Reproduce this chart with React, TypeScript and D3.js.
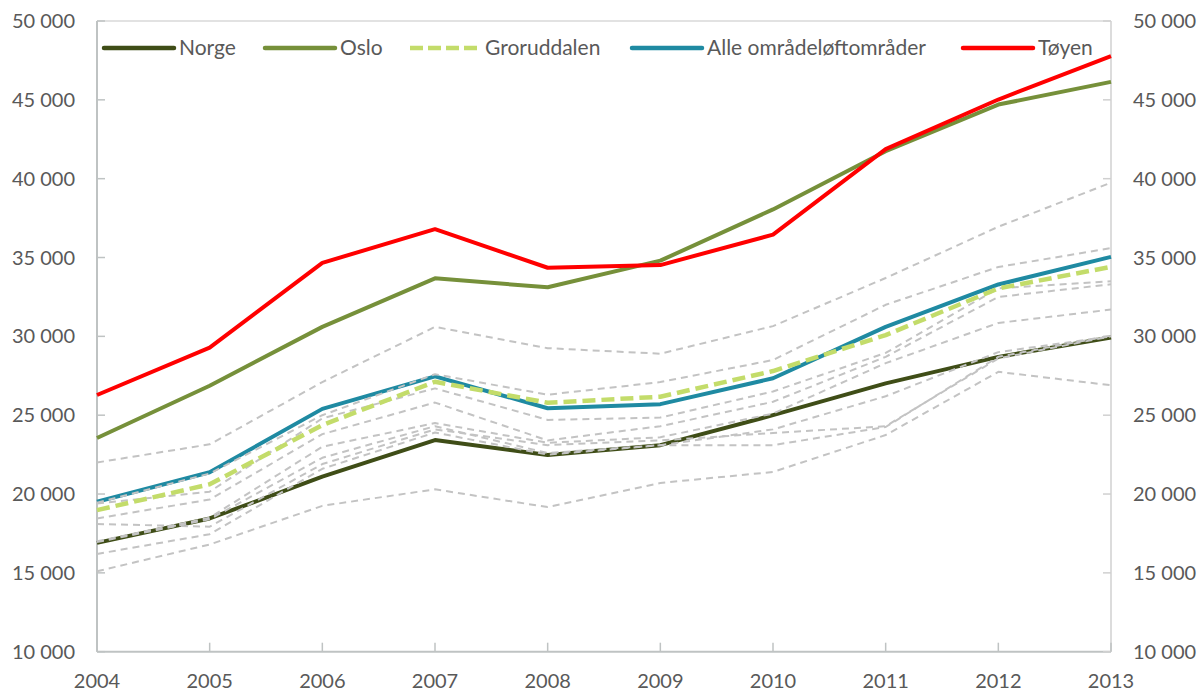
import React from "react";
import * as d3 from "d3";

const years = [2004, 2005, 2006, 2007, 2008, 2009, 2010, 2011, 2012, 2013];
const yTicks = [10000, 15000, 20000, 25000, 30000, 35000, 40000, 45000, 50000];

const norge = [16900, 18450, 21100, 23420, 22470, 23100, 25000, 27020, 28700, 29930];
const oslo = [23550, 26870, 30600, 33680, 33110, 34800, 38050, 41740, 44700, 46140];
const groruddalen = [18980, 20620, 24370, 27120, 25790, 26170, 27800, 30080, 33040, 34410];
const alle = [19510, 21380, 25400, 27460, 25440, 25700, 27340, 30600, 33290, 35040];
const toyen = [26280, 29280, 34660, 36800, 34350, 34520, 36450, 41870, 45020, 47770];

const grey1 = [22000, 23150, 27100, 30600, 29250, 28900, 30650, 33700, 36950, 39750];
const grey2 = [19450, 21300, 25000, 27600, 26300, 27100, 28500, 32000, 34400, 35600];
const grey3 = [19400, 20150, 24800, 26700, 24700, 24850, 26500, 28950, 33050, 33500];
const grey4 = [18450, 19650, 23800, 25800, 23400, 24300, 25850, 28700, 32500, 33300];
const grey5 = [17000, 18500, 23000, 24500, 23250, 23600, 25100, 28300, 30850, 31700];
const grey6 = [16950, 18400, 22300, 24300, 22600, 23100, 24100, 26200, 29000, 30000];
const grey7 = [18100, 17930, 21900, 24100, 23100, 23400, 23870, 24300, 28600, 30000];
const grey8 = [16200, 17450, 21600, 23900, 22500, 23100, 23100, 24250, 28700, 30050];
const grey9 = [15100, 16800, 19250, 20300, 19170, 20700, 21400, 23740, 27750, 26900];
const greys = [grey1, grey2, grey3, grey4, grey5, grey6, grey7, grey8, grey9];

const legendLabels = ["Norge", "Oslo", "Groruddalen", "Alle områdeløftområder", "Tøyen"];

const C_NORGE = "#3f4d17";
const C_OSLO = "#76903a";
const C_GROR = "#c3dc6a";
const C_ALLE = "#1f8aa2";
const C_TOYEN = "#ff0000";
const C_GREY = "#c3c3c3";
const TEXT = "#595959";
const FONT = "Lato, 'Open Sans', sans-serif";

export default function App() {
  const W = 1200;
  const H = 692;
  const x0 = 97;
  const x1 = 1111;
  const yTop = 21;
  const yBot = 651.7;

  const x = d3.scaleLinear().domain([2004, 2013]).range([x0, x1]);
  const y = d3.scaleLinear().domain([10000, 50000]).range([yBot, yTop]);
  const line = d3
    .line<number>()
    .x((_, i) => x(years[i]))
    .y((d) => y(d));
  const fmt = d3.formatLocale({ thousands: " ", grouping: [3], decimal: ",", currency: ["", ""] }).format(",d");

  const legendItems = [
    { label: legendLabels[0], color: C_NORGE, lx: 104, tx: 179, dash: undefined },
    { label: legendLabels[1], color: C_OSLO, lx: 265, tx: 340, dash: undefined },
    { label: legendLabels[2], color: C_GROR, lx: 410, tx: 485, dash: "13 5" },
    { label: legendLabels[3], color: C_ALLE, lx: 632, tx: 707, dash: undefined },
    { label: legendLabels[4], color: C_TOYEN, lx: 963, tx: 1038, dash: undefined },
  ];
  const legY = 48;

  return (
    <svg
      width={W}
      height={H}
      style={{ position: "absolute", left: 0, top: 0, background: "#fff" }}
      fontFamily={FONT}
    >
      <rect x={0} y={0} width={W} height={H} fill="#fff" />
      {/* frame */}
      <line x1={x0} x2={x1} y1={yTop} y2={yTop} stroke="#d9d9d9" strokeWidth={1.5} />
      <line x1={x1} x2={x1} y1={yTop} y2={yBot} stroke="#d0d0d0" strokeWidth={1.5} />
      <line x1={x0} x2={x0} y1={yTop} y2={yBot} stroke="#bfc3c3" strokeWidth={2} />
      <line x1={x0} x2={x1} y1={yBot} y2={yBot} stroke="#bfc3c3" strokeWidth={2} />

      {/* y ticks */}
      {yTicks.map((t) => (
        <g key={"yt" + t}>
          <line x1={x0} x2={x0 + 8} y1={y(t)} y2={y(t)} stroke="#bfc3c3" strokeWidth={1.5} />
          <line x1={x1} x2={x1 - 8} y1={y(t)} y2={y(t)} stroke="#d0d0d0" strokeWidth={1.5} />
          <text x={75} y={y(t)} dy="0.35em" textAnchor="end" fontSize={20} fill={TEXT}>
            {fmt(t)}
          </text>
          <text x={1133} y={y(t)} dy="0.35em" textAnchor="start" fontSize={20} fill={TEXT}>
            {fmt(t)}
          </text>
        </g>
      ))}

      {/* x ticks */}
      {years.map((yr) => (
        <g key={"xt" + yr}>
          <line x1={x(yr)} x2={x(yr)} y1={yBot} y2={yBot - 9} stroke="#bfc3c3" strokeWidth={1.5} />
          <text x={x(yr)} y={688} textAnchor="middle" fontSize={20} fill={TEXT}>
            {yr}
          </text>
        </g>
      ))}

      {/* series */}
      <path d={line(norge) || ""} fill="none" stroke={C_NORGE} strokeWidth={4} strokeLinejoin="round" />
      <path d={line(oslo) || ""} fill="none" stroke={C_OSLO} strokeWidth={4} strokeLinejoin="round" />
      <path d={line(alle) || ""} fill="none" stroke={C_ALLE} strokeWidth={4} strokeLinejoin="round" />
      {greys.map((g, i) => (
        <path
          key={"g" + i}
          d={line(g) || ""}
          fill="none"
          stroke={C_GREY}
          strokeWidth={2}
          strokeDasharray="7 5"
          strokeLinejoin="round"
        />
      ))}
      <path
        d={line(groruddalen) || ""}
        fill="none"
        stroke={C_GROR}
        strokeWidth={4.5}
        strokeDasharray="13 6"
        strokeLinejoin="round"
      />
      <path d={line(toyen) || ""} fill="none" stroke={C_TOYEN} strokeWidth={4} strokeLinejoin="round" />

      {/* legend */}
      {legendItems.map((it) => (
        <g key={it.label}>
          <line
            x1={it.lx}
            x2={it.lx + 70}
            y1={legY}
            y2={legY}
            stroke={it.color}
            strokeWidth={4.5}
            strokeDasharray={it.dash}
            strokeLinecap={it.dash ? "butt" : "round"}
          />
          <text x={it.tx} y={legY} dy="0.35em" fontSize={21} fill={TEXT}>
            {it.label}
          </text>
        </g>
      ))}
    </svg>
  );
}
